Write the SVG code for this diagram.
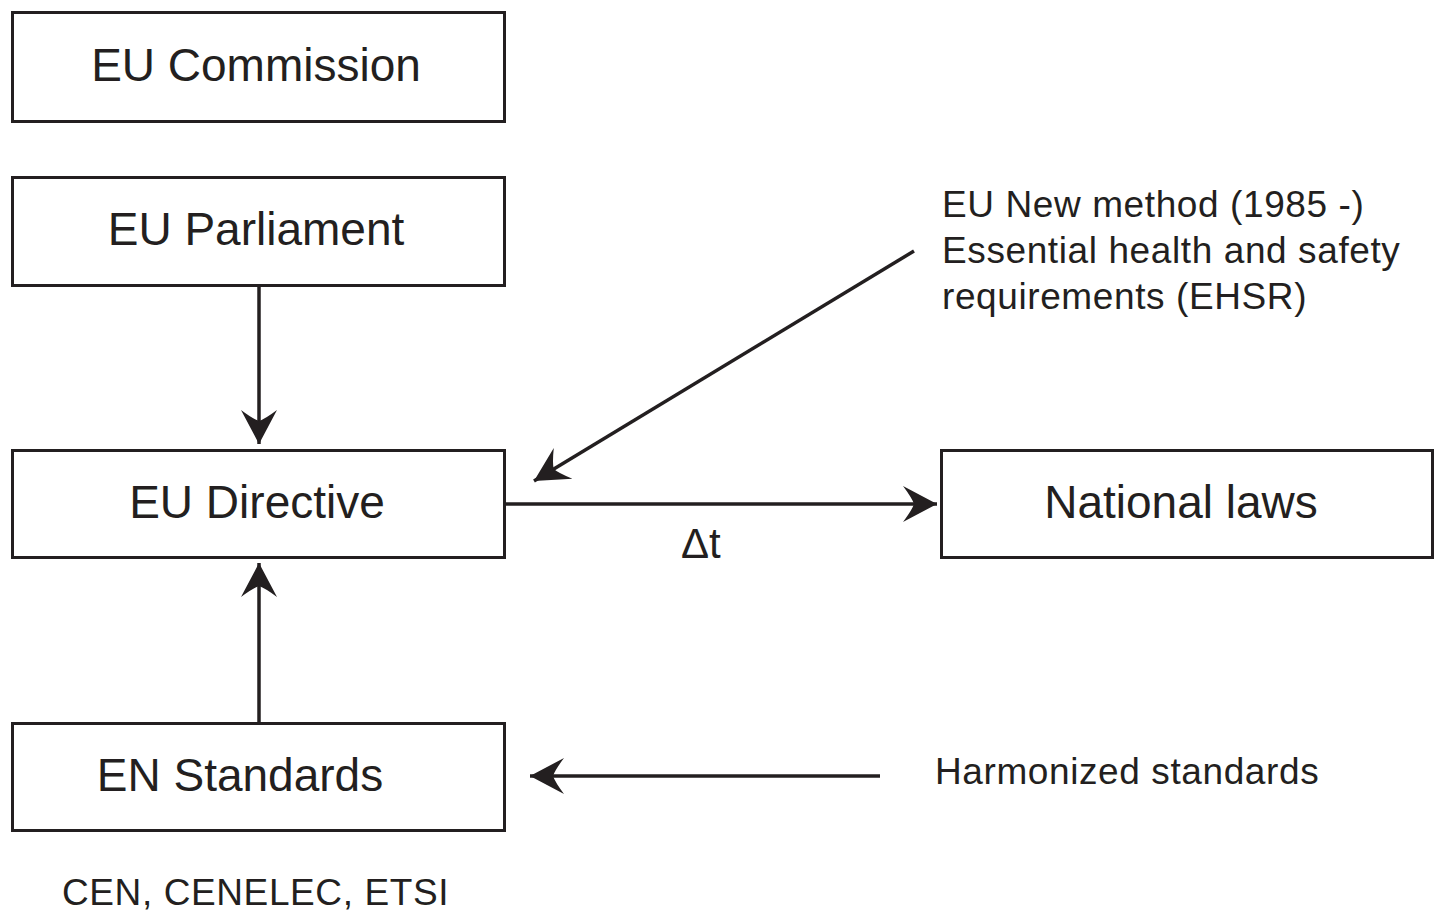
<svg xmlns="http://www.w3.org/2000/svg" width="1437" height="914" viewBox="0 0 1437 914">
<style>
.box{fill:#fff;stroke:#231f20;stroke-width:3}
.t{font-family:"Liberation Sans",Arial,sans-serif;fill:#231f20}
.big{font-size:46px;text-anchor:middle}
.sm{font-size:37px;letter-spacing:0.6px}
.c{stroke:#231f20;stroke-width:3.5;fill:none;marker-end:url(#ah)}
</style>
<defs>
<marker id="ah" markerUnits="userSpaceOnUse" viewBox="-38 -20 40 40" markerWidth="40" markerHeight="40" refX="0" refY="0" orient="auto">
<path d="M0,0 L-34,-18 Q-25,-6 -23,0 Q-25,6 -34,18 Z" fill="#231f20"/>
</marker>
</defs>
<rect width="1437" height="914" fill="#fff"/>
<g id="connectors">
<line class="c" x1="259" y1="286" x2="259" y2="444"/>
<line class="c" x1="259" y1="722" x2="259" y2="563"/>
<line class="c" x1="506" y1="504" x2="937" y2="504"/>
<line class="c" x1="914" y1="251" x2="534" y2="481"/>
<line class="c" x1="880" y1="776" x2="530" y2="776"/>
</g>
<g id="eu-commission"><rect class="box" x="12.5" y="12.5" width="492" height="109"/><text class="t big" x="256" y="81">EU Commission</text></g>
<g id="eu-parliament"><rect class="box" x="12.5" y="177.5" width="492" height="108"/><text class="t big" x="256" y="245">EU Parliament</text></g>
<g id="eu-directive"><rect class="box" x="12.5" y="450.5" width="492" height="107"/><text class="t big" x="257" y="518">EU Directive</text></g>
<g id="national-laws"><rect class="box" x="941.5" y="450.5" width="491" height="107"/><text class="t big" x="1181" y="518">National laws</text></g>
<g id="en-standards"><rect class="box" x="12.5" y="723.5" width="492" height="107"/><text class="t big" x="240" y="791">EN Standards</text></g>
<g id="labels">
<text class="t sm" x="942" y="217">EU New method (1985 -)</text>
<text class="t sm" x="942" y="263">Essential health and safety</text>
<text class="t sm" x="942" y="309">requirements (EHSR)</text>
<text class="t sm" x="935" y="784">Harmonized standards</text>
<text class="t sm" x="62" y="905">CEN, CENELEC, ETSI</text>
<text class="t" x="681" y="558" font-size="42">Δt</text>
</g>
</svg>
